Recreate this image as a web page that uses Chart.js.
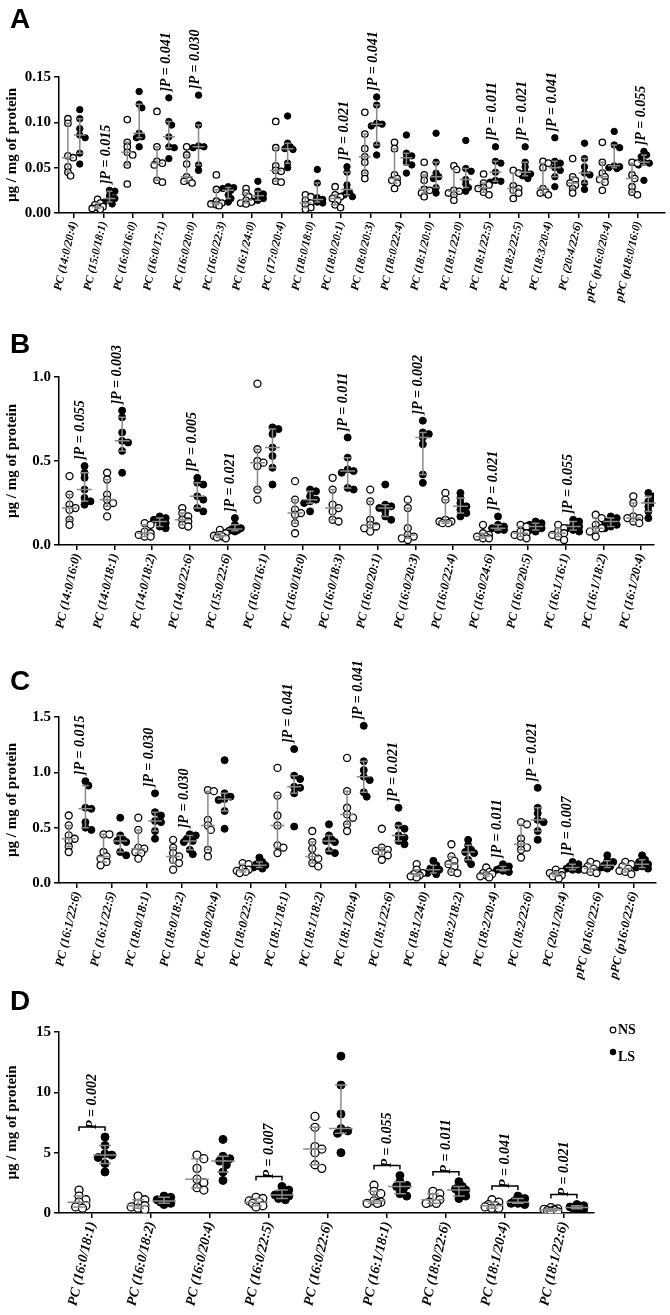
<!DOCTYPE html>
<html>
<head>
<meta charset="utf-8">
<script src="https://cdn.jsdelivr.net/npm/chart.js@4.4.1/dist/chart.umd.min.js"></script>
<style>
  body { margin: 0; background: #fff; width: 670px; height: 1315px; position: relative; overflow: hidden; }
  canvas { position: absolute; left: 0; }
</style>
</head>
<body>
<canvas id="pa" width="670" height="320" style="top:0px"></canvas>
<canvas id="pb" width="670" height="340" style="top:300px"></canvas>
<canvas id="pc" width="670" height="345" style="top:640px"></canvas>
<canvas id="pd" width="670" height="360" style="top:955px"></canvas>
<script>
// ---- panel A ----
const catsA = ['PC (14:0/20:4)', 'PC (15:0/18:1)', 'PC (16:0/16:0)', 'PC (16:0/17:1)', 'PC (16:0/20:0)',
    'PC (16:0/22:3)', 'PC (16:1/24:0)', 'PC (17:0/20:4)', 'PC (18:0/18:0)', 'PC (18:0/20:1)',
    'PC (18:0/20:3)', 'PC (18:0/22:4)', 'PC (18:1/20:0)', 'PC (18:1/22:0)', 'PC (18:1/22:5)',
    'PC (18:2/22:5)', 'PC (18:3/20:4)', 'PC (20:4/22:6)', 'pPC (p16:0/20:4)', 'pPC (p18:0/16:0)'];
const nsA = [
    [0.104, 0.099, 0.063, 0.061, 0.051, 0.045, 0.041],
    [0.015, 0.011, 0.009, 0.007, 0.006, 0.005, 0.004],
    [0.103, 0.078, 0.073, 0.067, 0.064, 0.053, 0.032],
    [0.112, 0.073, 0.057, 0.055, 0.053, 0.036, 0.034],
    [0.073, 0.064, 0.054, 0.040, 0.036, 0.035, 0.033],
    [0.042, 0.026, 0.013, 0.011, 0.010, 0.009, 0.008],
    [0.027, 0.022, 0.018, 0.014, 0.012, 0.011, 0.010],
    [0.101, 0.072, 0.052, 0.047, 0.046, 0.035, 0.034],
    [0.020, 0.018, 0.014, 0.011, 0.009, 0.006, 0.004],
    [0.029, 0.020, 0.018, 0.016, 0.014, 0.009, 0.006],
    [0.111, 0.087, 0.071, 0.062, 0.056, 0.044, 0.038],
    [0.078, 0.071, 0.042, 0.038, 0.036, 0.033, 0.027],
    [0.056, 0.042, 0.036, 0.026, 0.025, 0.022, 0.018],
    [0.052, 0.048, 0.025, 0.024, 0.022, 0.020, 0.014],
    [0.043, 0.033, 0.031, 0.028, 0.027, 0.023, 0.020],
    [0.047, 0.044, 0.030, 0.027, 0.025, 0.022, 0.016],
    [0.057, 0.055, 0.050, 0.027, 0.023, 0.022, 0.020],
    [0.060, 0.040, 0.036, 0.033, 0.031, 0.027, 0.022],
    [0.078, 0.056, 0.044, 0.040, 0.037, 0.034, 0.025],
    [0.056, 0.055, 0.042, 0.038, 0.029, 0.023, 0.020]
];
const lsA = [
    [0.114, 0.104, 0.093, 0.086, 0.083, 0.066, 0.054],
    [0.025, 0.024, 0.019, 0.016, 0.014, 0.012, 0.010],
    [0.134, 0.120, 0.116, 0.088, 0.084, 0.083, 0.073],
    [0.127, 0.101, 0.097, 0.084, 0.073, 0.072, 0.060],
    [0.130, 0.097, 0.074, 0.073, 0.072, 0.053, 0.047],
    [0.029, 0.028, 0.027, 0.025, 0.020, 0.016, 0.012],
    [0.035, 0.024, 0.021, 0.019, 0.016, 0.014, 0.013],
    [0.107, 0.077, 0.073, 0.071, 0.070, 0.055, 0.050],
    [0.048, 0.033, 0.017, 0.015, 0.014, 0.012, 0.011],
    [0.051, 0.045, 0.031, 0.026, 0.022, 0.020, 0.018],
    [0.128, 0.119, 0.099, 0.098, 0.096, 0.075, 0.064],
    [0.086, 0.066, 0.063, 0.061, 0.056, 0.053, 0.044],
    [0.088, 0.056, 0.044, 0.040, 0.038, 0.028, 0.022],
    [0.080, 0.049, 0.046, 0.037, 0.032, 0.028, 0.024],
    [0.073, 0.057, 0.055, 0.045, 0.036, 0.035, 0.034],
    [0.073, 0.056, 0.051, 0.045, 0.043, 0.041, 0.038],
    [0.083, 0.057, 0.055, 0.050, 0.047, 0.040, 0.029],
    [0.077, 0.060, 0.051, 0.044, 0.042, 0.033, 0.026],
    [0.090, 0.075, 0.072, 0.052, 0.051, 0.050, 0.049],
    [0.068, 0.064, 0.062, 0.056, 0.055, 0.053, 0.036]
];
const pA = [null, '0.015', null, '0.041', '0.030', null, null, null, null, '0.021',
    '0.041', null, null, null, '0.011', '0.021', '0.041', null, null, '0.055'];
const ticksA = [0, 0.05, 0.10, 0.15];

// ---- panel B ----
const catsB = ['PC (14:0/16:0)', 'PC (14:0/18:1)', 'PC (14:0/18:2)', 'PC (14:0/22:6)', 'PC (15:0/22:6)',
    'PC (16:0/16:1)', 'PC (16:0/18:0)', 'PC (16:0/18:3)', 'PC (16:0/20:1)', 'PC (16:0/20:3)',
    'PC (16:0/22:4)', 'PC (16:0/24:6)', 'PC (16:0/20:5)', 'PC (16:1/16:1)', 'PC (16:1/18:2)', 'PC (16:1/20:4)'];
const nsB = [
    [0.41, 0.30, 0.24, 0.22, 0.21, 0.15, 0.12],
    [0.43, 0.39, 0.30, 0.27, 0.25, 0.23, 0.17],
    [0.13, 0.12, 0.08, 0.07, 0.06, 0.05, 0.05],
    [0.22, 0.19, 0.17, 0.15, 0.14, 0.12, 0.11],
    [0.09, 0.07, 0.06, 0.055, 0.05, 0.045, 0.04],
    [0.96, 0.57, 0.50, 0.49, 0.47, 0.33, 0.27],
    [0.38, 0.27, 0.21, 0.19, 0.18, 0.13, 0.07],
    [0.40, 0.33, 0.24, 0.22, 0.20, 0.15, 0.14],
    [0.33, 0.26, 0.15, 0.12, 0.11, 0.10, 0.08],
    [0.27, 0.22, 0.10, 0.06, 0.05, 0.04, 0.03],
    [0.31, 0.27, 0.15, 0.14, 0.14, 0.13, 0.13],
    [0.12, 0.07, 0.06, 0.05, 0.05, 0.04, 0.04],
    [0.12, 0.11, 0.08, 0.07, 0.06, 0.05, 0.04],
    [0.12, 0.10, 0.08, 0.07, 0.06, 0.05, 0.03],
    [0.18, 0.16, 0.12, 0.10, 0.09, 0.08, 0.05],
    [0.29, 0.25, 0.17, 0.16, 0.16, 0.14, 0.13]
];
const lsB = [
    [0.47, 0.43, 0.40, 0.33, 0.28, 0.26, 0.24],
    [0.80, 0.76, 0.67, 0.62, 0.61, 0.56, 0.43],
    [0.17, 0.16, 0.15, 0.14, 0.13, 0.11, 0.10],
    [0.40, 0.37, 0.36, 0.29, 0.27, 0.22, 0.20],
    [0.16, 0.12, 0.10, 0.095, 0.09, 0.085, 0.08],
    [0.70, 0.69, 0.66, 0.58, 0.53, 0.46, 0.36],
    [0.33, 0.32, 0.29, 0.27, 0.26, 0.25, 0.20],
    [0.64, 0.52, 0.45, 0.44, 0.43, 0.34, 0.33],
    [0.36, 0.24, 0.23, 0.22, 0.20, 0.17, 0.15],
    [0.74, 0.67, 0.66, 0.64, 0.60, 0.42, 0.37],
    [0.31, 0.28, 0.25, 0.23, 0.21, 0.19, 0.17],
    [0.17, 0.12, 0.11, 0.10, 0.10, 0.09, 0.09],
    [0.14, 0.13, 0.12, 0.11, 0.10, 0.09, 0.08],
    [0.15, 0.14, 0.12, 0.11, 0.10, 0.09, 0.08],
    [0.17, 0.16, 0.14, 0.14, 0.12, 0.11, 0.10],
    [0.31, 0.29, 0.26, 0.25, 0.23, 0.20, 0.16]
];
const pB = ['0.055', '0.003', null, '0.005', '0.021', null, null, '0.011', null, '0.002',
    null, '0.021', null, '0.055', null, null];
const ticksB = [0, 0.5, 1.0];

// ---- panel C ----
const catsC = ['PC (16:1/22:6)', 'PC (16:1/22:5)', 'PC (18:0/18:1)', 'PC (18:0/18:2)', 'PC (18:0/20:4)',
    'PC (18:0/22:5)', 'PC (18:1/18:1)', 'PC (18:1/18:2)', 'PC (18:1/20:4)', 'PC (18:1/22:6)',
    'PC (18:1/24:0)', 'PC (18:2/18:2)', 'PC (18:2/20:4)', 'PC (18:2/22:6)', 'PC (20:1/20:4)',
    'pPC (p16:0/22:6)', 'pPC (p16:0/22:6)'];
const nsC = [
    [0.61, 0.52, 0.43, 0.40, 0.38, 0.33, 0.28],
    [0.44, 0.44, 0.28, 0.24, 0.22, 0.19, 0.16],
    [0.59, 0.48, 0.32, 0.31, 0.28, 0.27, 0.22],
    [0.39, 0.32, 0.27, 0.24, 0.21, 0.18, 0.12],
    [0.84, 0.83, 0.57, 0.52, 0.48, 0.30, 0.24],
    [0.18, 0.17, 0.13, 0.12, 0.11, 0.10, 0.09],
    [1.04, 0.79, 0.61, 0.52, 0.34, 0.32, 0.27],
    [0.47, 0.37, 0.31, 0.24, 0.22, 0.18, 0.15],
    [1.13, 0.83, 0.68, 0.62, 0.59, 0.53, 0.47],
    [0.49, 0.32, 0.30, 0.29, 0.27, 0.25, 0.21],
    [0.17, 0.12, 0.09, 0.08, 0.07, 0.06, 0.05],
    [0.35, 0.24, 0.20, 0.17, 0.15, 0.10, 0.09],
    [0.14, 0.10, 0.09, 0.08, 0.07, 0.06, 0.05],
    [0.55, 0.53, 0.40, 0.35, 0.32, 0.30, 0.23],
    [0.12, 0.10, 0.09, 0.08, 0.07, 0.06, 0.04],
    [0.19, 0.17, 0.15, 0.13, 0.12, 0.10, 0.09],
    [0.19, 0.17, 0.15, 0.13, 0.11, 0.10, 0.08]
];
const lsC = [
    [0.92, 0.88, 0.68, 0.67, 0.55, 0.50, 0.48],
    [0.59, 0.43, 0.39, 0.38, 0.37, 0.28, 0.25],
    [0.81, 0.64, 0.61, 0.56, 0.55, 0.47, 0.40],
    [0.44, 0.43, 0.40, 0.38, 0.37, 0.30, 0.26],
    [1.11, 0.81, 0.78, 0.76, 0.75, 0.65, 0.49],
    [0.23, 0.19, 0.17, 0.16, 0.15, 0.14, 0.13],
    [1.21, 0.97, 0.94, 0.87, 0.86, 0.81, 0.51],
    [0.53, 0.43, 0.39, 0.38, 0.37, 0.29, 0.27],
    [1.42, 1.10, 1.02, 0.96, 0.93, 0.82, 0.78],
    [0.68, 0.52, 0.49, 0.43, 0.41, 0.38, 0.35],
    [0.20, 0.16, 0.13, 0.12, 0.11, 0.09, 0.08],
    [0.39, 0.34, 0.30, 0.28, 0.27, 0.21, 0.17],
    [0.17, 0.15, 0.13, 0.12, 0.12, 0.11, 0.10],
    [0.86, 0.68, 0.63, 0.57, 0.55, 0.47, 0.39],
    [0.19, 0.17, 0.15, 0.14, 0.13, 0.12, 0.12],
    [0.25, 0.20, 0.19, 0.16, 0.15, 0.14, 0.13],
    [0.25, 0.21, 0.19, 0.17, 0.15, 0.14, 0.13]
];
const pC = ['0.015', null, '0.030', '0.030', null, null, '0.041', null, '0.041', '0.021',
    null, null, '0.011', '0.021', '0.007', null, null];
const ticksC = [0, 0.5, 1.0, 1.5];

// ---- panel D ----
const catsD = ['PC (16:0/18:1)', 'PC (16:0/18:2)', 'PC (16:0/20:4)', 'PC (16:0/22:5)', 'PC (16:0/22:6)',
    'PC (16:1/18:1)', 'PC (18:0/22:6)', 'PC (18:1/20:4)', 'PC (18:1/22:6)'];
const nsD = [
    [1.9, 1.4, 1.1, 0.9, 0.6, 0.5, 0.4],
    [1.4, 1.1, 0.8, 0.6, 0.5, 0.4, 0.3],
    [4.8, 4.5, 3.7, 2.8, 2.5, 2.1, 1.9],
    [1.3, 1.2, 1.0, 0.9, 0.8, 0.6, 0.5],
    [8.0, 7.1, 5.5, 5.3, 5.0, 4.0, 3.7],
    [2.3, 1.8, 1.6, 1.0, 0.9, 0.8, 0.8],
    [1.8, 1.6, 1.3, 1.1, 0.9, 0.8, 0.8],
    [1.1, 0.9, 0.7, 0.6, 0.5, 0.4, 0.4],
    [0.45, 0.35, 0.3, 0.25, 0.2, 0.15, 0.1]
];
const lsD = [
    [6.3, 5.6, 4.9, 4.8, 4.6, 4.1, 3.4],
    [1.4, 1.3, 1.1, 1.0, 0.9, 0.8, 0.7],
    [6.1, 4.7, 4.5, 4.3, 4.0, 3.4, 2.7],
    [2.2, 1.9, 1.6, 1.5, 1.4, 1.2, 1.1],
    [13.0, 10.6, 8.2, 7.0, 6.8, 6.6, 5.0],
    [3.1, 2.6, 2.3, 2.2, 2.0, 1.6, 1.4],
    [2.6, 2.2, 2.0, 1.9, 1.7, 1.4, 1.2],
    [1.4, 1.2, 1.0, 0.9, 0.8, 0.8, 0.7],
    [0.7, 0.6, 0.5, 0.45, 0.4, 0.35, 0.3]
];
const pD = ['0.002', null, null, '0.007', null, '0.055', '0.011', '0.041', '0.021'];
const ticksD = [0, 5, 10, 15];

const SERIF = "'Liberation Serif', 'Times New Roman', serif";
const SANS = "'Liberation Sans', Arial, sans-serif";
const YTITLE = 'µg / mg of protein';

// nudge points sideways a little so close values don't sit right on top of each other
const spread = (vals, pxPerVal, r) => {
    const order = vals.map((v, i) => i).sort((a, b) => vals[b] - vals[a]);
    const placed = [], out = [];
    const steps = [0, 1, -1, 2, -2];
    for (const i of order) {
        const py = vals[i] * pxPerVal;
        let best = 0, bestD = -1;
        for (const s of steps) {
            const px = s * r * 0.85;
            let d = Infinity;
            for (const p of placed) d = Math.min(d, Math.hypot(p[0] - px, p[1] - py));
            if (d >= r * 1.3) { best = px; break; }
            if (d > bestD) { bestD = d; best = px; }
        }
        placed.push([best, py]);
        out[i] = best;
    }
    return out;
};

const quart = (vals) => {
    const s = [...vals].sort((a, b) => a - b), n = s.length;
    const q = (p) => {
        const h = Math.min(Math.max((n + 1) * p - 1, 0), n - 1);
        const lo = Math.floor(h), hi = Math.ceil(h);
        return s[lo] + (s[hi] - s[lo]) * (h - lo);
    };
    return [q(0.25), q(0.5), q(0.75)];
};

const overlay = (p) => ({
    id: 'overlay' + p.letter,
    afterDatasetsDraw(chart) {
        const ctx = chart.ctx, xs = chart.scales.x, ys = chart.scales.y, area = chart.chartArea;
        ctx.save();

        // median with interquartile range
        ctx.strokeStyle = '#8a8a8a';
        ctx.lineWidth = 1.5;
        const mw = p.unit * 0.2, cw = p.unit * 0.1;
        p.cats.forEach((c, i) => {
            [[p.ns[i], -p.off], [p.ls[i], p.off]].forEach(([vals, o]) => {
                const [q1, md, q3] = quart(vals);
                const x = xs.getPixelForValue(i + o);
                const y1 = ys.getPixelForValue(q1), y2 = ys.getPixelForValue(md), y3 = ys.getPixelForValue(q3);
                ctx.beginPath();
                ctx.moveTo(x, y1); ctx.lineTo(x, y3);
                ctx.moveTo(x - cw, y1); ctx.lineTo(x + cw, y1);
                ctx.moveTo(x - cw, y3); ctx.lineTo(x + cw, y3);
                ctx.moveTo(x - mw, y2); ctx.lineTo(x + mw, y2);
                ctx.stroke();
            });
        });

        // P values
        ctx.fillStyle = '#000';
        ctx.strokeStyle = '#000';
        ctx.font = `italic bold ${p.pFont}px ${SERIF}`;
        ctx.textBaseline = 'middle';
        ctx.textAlign = 'left';
        p.pv.forEach((pv, i) => {
            if (!pv) return;
            const top = Math.max(...p.ns[i], ...p.ls[i]);
            const yTop = ys.getPixelForValue(top);
            if (p.bracket) {
                const xa = xs.getPixelForValue(i - p.off), xb = xs.getPixelForValue(i + p.off);
                const yb = yTop - 10;
                ctx.lineWidth = 1.5;
                ctx.beginPath();
                ctx.moveTo(xa, yb + 4); ctx.lineTo(xa, yb); ctx.lineTo(xb, yb); ctx.lineTo(xb, yb + 4);
                ctx.stroke();
                ctx.save();
                ctx.translate(xs.getPixelForValue(i), yb + 2);
                ctx.rotate(-Math.PI / 2);
                ctx.fillText('P = ' + pv, 0, 0);
                ctx.restore();
            } else {
                ctx.save();
                ctx.translate(xs.getPixelForValue(i) + 3, yTop - 6);
                ctx.rotate(-Math.PI / 2);
                ctx.fillText(']P = ' + pv, 0, 0);
                ctx.restore();
            }
        });

        // y axis title
        ctx.save();
        ctx.translate(12, (area.top + area.bottom) / 2);
        ctx.rotate(-Math.PI / 2);
        ctx.textAlign = 'center';
        ctx.font = `bold 15px ${SERIF}`;
        ctx.fillText(YTITLE, 0, 0);
        ctx.restore();

        // panel letter
        ctx.font = `bold 28px ${SANS}`;
        ctx.textBaseline = 'alphabetic';
        ctx.fillText(p.letter, 10, p.letterY);

        // legend (last panel only)
        if (p.legend) {
            ctx.font = `bold 14px ${SERIF}`;
            ctx.textBaseline = 'middle';
            ctx.lineWidth = 1.2;
            ctx.beginPath(); ctx.arc(613, 75, 2.8, 0, Math.PI * 2);
            ctx.fillStyle = '#fff'; ctx.fill(); ctx.stroke();
            ctx.fillStyle = '#000';
            ctx.fillText('NS', 618, 75);
            ctx.beginPath(); ctx.arc(613, 97, 3.2, 0, Math.PI * 2); ctx.fill();
            ctx.fillText('LS', 618, 102);
        }
        ctx.restore();
    }
});

const panels = [
    { id: 'pa', letter: 'A', letterY: 28, cats: catsA, ns: nsA, ls: lsA, pv: pA, yTicks: ticksA, dec: 2,
      yMax: 0.15, xMin: -0.5, xMax: 19.9, plotH: 136, unit: 29.9, off: 0.2, r: 3.2, xFont: 11.5, pFont: 14,
      xH: 107, padR: 1, bracket: false },
    { id: 'pb', letter: 'B', letterY: 53, cats: catsB, ns: nsB, ls: lsB, pv: pB, yTicks: ticksB, dec: 1,
      yMax: 1.0, xMin: -0.48, xMax: 15.35, plotH: 168, unit: 37.6, off: 0.2, r: 3.5, xFont: 12.5, pFont: 14,
      xH: 95, padR: 16, bracket: false },
    { id: 'pc', letter: 'C', letterY: 50, cats: catsC, ns: nsC, ls: lsC, pv: pC, yTicks: ticksC, dec: 1,
      yMax: 1.5, xMin: -0.52, xMax: 16.64, plotH: 166, unit: 34.8, off: 0.24, r: 3.5, xFont: 12.5, pFont: 14,
      xH: 102, padR: 14, bracket: false },
    { id: 'pd', letter: 'D', letterY: 55, cats: catsD, ns: nsD, ls: lsD, pv: pD, yTicks: ticksD, dec: 0,
      yMax: 15, xMin: -0.56, xMax: 8.51, plotH: 181, unit: 59, off: 0.22, r: 4, xFont: 14, pFont: 14,
      xH: 102, padR: 76, bracket: true, legend: true }
];

panels.forEach((p) => {
    const pxPerVal = p.plotH / p.yMax;
    const nsPts = [], lsPts = [];
    p.cats.forEach((c, i) => {
        const jn = spread(p.ns[i], pxPerVal, p.r);
        const jl = spread(p.ls[i], pxPerVal, p.r);
        p.ns[i].forEach((v, k) => nsPts.push({ x: i - p.off + jn[k] / p.unit, y: v }));
        p.ls[i].forEach((v, k) => lsPts.push({ x: i + p.off + jl[k] / p.unit, y: v }));
    });

    new Chart(document.getElementById(p.id), {
        type: 'scatter',
        data: {
            datasets: [
                { label: 'NS', data: nsPts, pointRadius: p.r, pointBackgroundColor: '#fff',
                  pointBorderColor: '#000', pointBorderWidth: 1.3 },
                { label: 'LS', data: lsPts, pointRadius: p.r, pointBackgroundColor: '#000',
                  pointBorderColor: '#000', pointBorderWidth: 1 }
            ]
        },
        options: {
            responsive: false,
            animation: false,
            events: [],
            layout: { padding: { top: 77, right: p.padR, left: 0, bottom: 0 } },
            plugins: { legend: { display: false }, tooltip: { enabled: false } },
            scales: {
                x: {
                    type: 'linear', min: p.xMin, max: p.xMax,
                    afterBuildTicks: (s) => { s.ticks = p.cats.map((c, i) => ({ value: i })); },
                    afterFit: (s) => { s.height = p.xH; },
                    ticks: {
                        autoSkip: false, minRotation: 77, maxRotation: 77, color: '#000', padding: 2,
                        font: { family: SERIF, size: p.xFont, style: 'italic', weight: 'bold' },
                        callback: (v) => p.cats[v]
                    },
                    grid: { drawOnChartArea: false, drawTicks: true, tickLength: 5, color: '#000', lineWidth: 1.5 },
                    border: { display: true, color: '#000', width: 1.5 }
                },
                y: {
                    min: 0, max: p.yMax,
                    afterBuildTicks: (s) => { s.ticks = p.yTicks.map((v) => ({ value: v })); },
                    afterFit: (s) => { s.width = 59; },
                    ticks: {
                        color: '#000', padding: 3,
                        font: { family: SERIF, size: 15, weight: 'bold' },
                        callback: (v) => Number(v).toFixed(p.dec)
                    },
                    grid: { drawOnChartArea: false, drawTicks: true, tickLength: 5, color: '#000', lineWidth: 1.5 },
                    border: { display: true, color: '#000', width: 1.5 }
                }
            }
        },
        plugins: [overlay(p)]
    });
});
</script>
</body>
</html>
